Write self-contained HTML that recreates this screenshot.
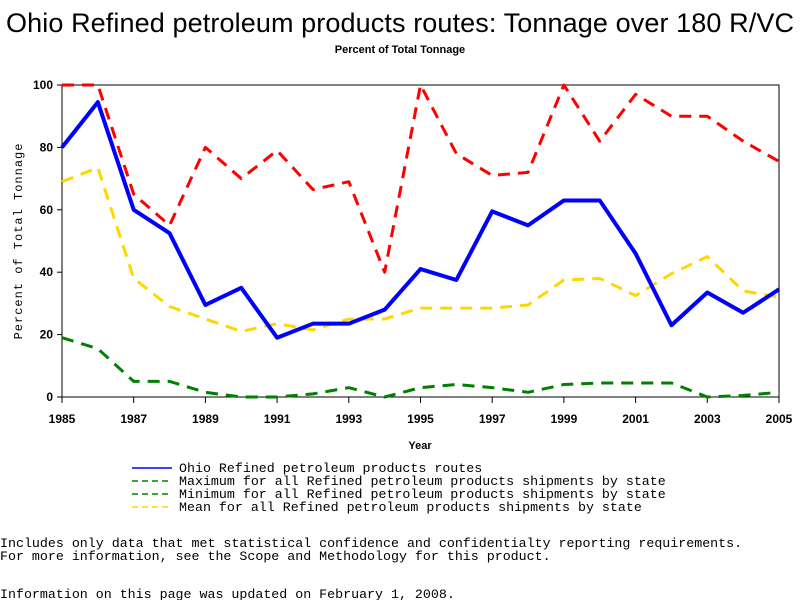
<!DOCTYPE html>
<html><head><meta charset="utf-8"><style>
body{margin:0;background:#fff;width:800px;height:600px;overflow:hidden}
text{font-family:"Liberation Sans",sans-serif}
text.m{font-family:"Liberation Mono",monospace}
</style></head><body>
<svg id="c" width="800" height="600" xmlns="http://www.w3.org/2000/svg">
<text x="400" y="32" font-size="27" text-anchor="middle" textLength="788">Ohio Refined petroleum products routes: Tonnage over 180 R/VC</text>
<text x="400" y="53" font-size="11" font-weight="bold" text-anchor="middle">Percent of Total Tonnage</text>
<rect x="62" y="85" width="717" height="312" fill="none" stroke="#000"/>
<g id="ax"></g>
<g id="lines"></g>
<text x="420" y="449" font-size="11" font-weight="bold" text-anchor="middle">Year</text>
<text transform="translate(22,241) rotate(-90)" font-size="12" class="m" text-anchor="middle" letter-spacing="1">Percent of Total Tonnage</text>
<g id="legend"></g>
<text x="0" y="547" class="m" font-size="13.3">Includes only data that met statistical confidence and confidentialty reporting requirements.</text>
<text x="0" y="560" class="m" font-size="13.3">For more information, see the Scope and Methodology for this product.</text>
<text x="0" y="598" class="m" font-size="13.3">Information on this page was updated on February 1, 2008.</text>
</svg>
<script>
const years=[1985,1986,1987,1988,1989,1990,1991,1992,1993,1994,1995,1996,1997,1998,1999,2000,2001,2002,2003,2004,2005];
const ohio=[80,94.5,60,52.5,29.5,35,19,23.5,23.5,28,41,37.5,59.5,55,63,63,46,23,33.5,27,34.5];
const maxv=[100,100,65,55,80,70,79,66.5,69,40,100,78,71,72,100,82,97,90,90,82,75.5];
const minv=[19,15.5,5,5,1.5,0,0,1,3,0,3,4,3,1.5,4,4.5,4.5,4.5,0,0.5,1.5];
const meanv=[69,73.5,38,29,25,21,23.5,21.5,25,25,28.5,28.5,28.5,29.5,37.5,38,32.5,39.5,45,34,32];
const yTicks=[0,20,40,60,80,100];
const xTicks=[1985,1987,1989,1991,1993,1995,1997,1999,2001,2003,2005];
const NS='http://www.w3.org/2000/svg';
const X=y=>62+(y-1985)*717/20, Y=v=>397-v*3.12;
function mk(t,a,p){const e=document.createElementNS(NS,t);for(const k in a)e.setAttribute(k,a[k]);p.appendChild(e);return e;}
const ax=document.getElementById('ax');
yTicks.forEach(v=>{const l=mk('line',{x1:57,x2:62,y1:Y(v),y2:Y(v),stroke:'#000'},ax);


const t=mk('text',{x:53,y:Y(v)+4,'font-size':12,'font-weight':'bold','text-anchor':'end'},ax);t.textContent=v;

});
xTicks.forEach(v=>{const l=mk('line',{x1:X(v),x2:X(v),y1:397,y2:403,stroke:'#000'},ax);


const t=mk('text',{x:X(v),y:423,'font-size':12,'font-weight':'bold','text-anchor':'middle'},ax);t.textContent=v;

});
const g=document.getElementById('lines');
function line(d,col,w,dash,name){const p=mk('polyline',{points:d.map((v,i)=>X(years[i])+','+Y(v)).join(' '),fill:'none',stroke:col,'stroke-width':w,'stroke-dasharray':dash,'stroke-linejoin':'round'},g);

}
line(minv,'#008000',3,'12,8','min-line');
line(meanv,'#ffd700',3,'12,8','mean-line');
line(maxv,'#ff0000',3,'12,8','max-line');
line(ohio,'#0000ff',4,'none','ohio-line');
const lg=document.getElementById('legend');
const items=[['Ohio Refined petroleum products routes','#0000ff','none'],['Maximum for all Refined petroleum products shipments by state','#008000','6,4'],['Minimum for all Refined petroleum products shipments by state','#008000','6,4'],['Mean for all Refined petroleum products shipments by state','#ffd700','6,4']];
items.forEach((it,i)=>{const y=468+i*13;
const l=mk('line',{x1:132,x2:172,y1:y,y2:y,stroke:it[1],'stroke-width':1.5,'stroke-dasharray':it[2]},lg);


const t=mk('text',{x:179,y:y+4,'class':'m','font-size':13.3},lg);t.textContent=it[0];

});
</script>
</body></html>
